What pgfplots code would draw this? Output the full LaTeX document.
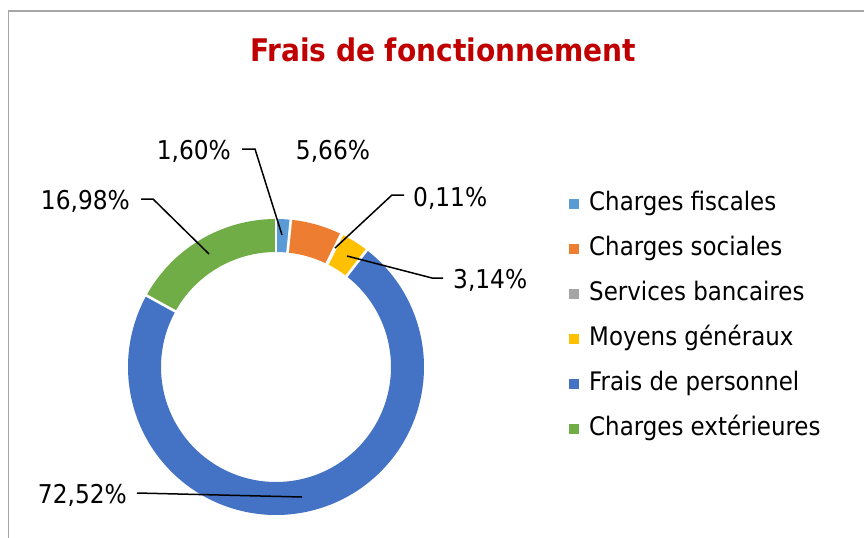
\documentclass[border=0pt]{standalone}
\usepackage{pgfplots}
\pgfplotsset{compat=1.18}
\usepackage{fontspec}
\setmainfont{DejaVu Sans Condensed}
\definecolor{cA}{HTML}{5B9BD5}
\definecolor{cB}{HTML}{ED7D31}
\definecolor{cC}{HTML}{A5A5A5}
\definecolor{cD}{HTML}{FFC000}
\definecolor{cE}{HTML}{4472C4}
\definecolor{cF}{HTML}{70AD47}
\definecolor{titlered}{HTML}{C00000}
\definecolor{bordergray}{HTML}{A6A6A6}
% data (percent)
\def\pA{1.60}  % Charges fiscales
\def\pB{5.66}  % Charges sociales
\def\pC{0.11}  % Services bancaires
\def\pD{3.14}  % Moyens generaux
\def\pE{72.52} % Frais de personnel
\def\pF{16.98} % Charges exterieures
\pgfmathsetmacro\aA{90-3.6*\pA}
\pgfmathsetmacro\aB{\aA-3.6*\pB}
\pgfmathsetmacro\aC{\aB-3.6*\pC}
\pgfmathsetmacro\aD{\aC-3.6*\pD}
\pgfmathsetmacro\aE{\aD-3.6*\pE}
\pgfmathsetmacro\aF{\aE-3.6*\pF}
\def\cx{276}
\def\cy{367}
\def\Rm{131.5}
\begin{document}
\begin{tikzpicture}
\begin{axis}[
  width=864bp, height=538bp, scale only axis,
  xmin=0, xmax=864, ymin=0, ymax=538, y dir=reverse,
  hide axis, clip=false,
  legend image code/.code={\fill[#1] (0bp,-5bp) rectangle (10bp,5bp);},
  legend style={at={(axis cs:569,193)}, anchor=north west, draw=none, fill=none,
    inner sep=0pt, row sep=23bp, column sep=10bp,
    font=\fontsize{25.6}{30}\selectfont,
    nodes={inner sep=0pt, text height=17bp, text depth=5bp}},
  legend cell align=left,
]
% ring slices
\addplot[cA, line width=33bp, domain=\aA:90, samples=20, forget plot] ({\cx+\Rm*cos(x)},{\cy-\Rm*sin(x)});
\addplot[cB, line width=33bp, domain=\aB:\aA, samples=30, forget plot] ({\cx+\Rm*cos(x)},{\cy-\Rm*sin(x)});
\addplot[cC, line width=33bp, domain=\aC:\aB, samples=2, forget plot] ({\cx+\Rm*cos(x)},{\cy-\Rm*sin(x)});
\addplot[cD, line width=33bp, domain=\aD:\aC, samples=20, forget plot] ({\cx+\Rm*cos(x)},{\cy-\Rm*sin(x)});
\addplot[cE, line width=33bp, domain=\aE:\aD, samples=240, forget plot] ({\cx+\Rm*cos(x)},{\cy-\Rm*sin(x)});
\addplot[cF, line width=33bp, domain=\aF:\aE, samples=60, forget plot] ({\cx+\Rm*cos(x)},{\cy-\Rm*sin(x)});
% white separators
\foreach \b in {90,\aA,\aB,\aC,\aD,\aE}{
  \addplot[white, line width=2.6bp, domain=110:154, samples=2, forget plot] ({\cx+x*cos(\b)},{\cy-x*sin(\b)});
}
% legend
\addlegendimage{fill=cA, draw=none}\addlegendentry{Charges fiscales}
\addlegendimage{fill=cB, draw=none}\addlegendentry{Charges sociales}
\addlegendimage{fill=cC, draw=none}\addlegendentry{Services bancaires}
\addlegendimage{fill=cD, draw=none}\addlegendentry{Moyens généraux}
\addlegendimage{fill=cE, draw=none}\addlegendentry{Frais de personnel}
\addlegendimage{fill=cF, draw=none}\addlegendentry{Charges extérieures}
% title
\node[anchor=base, font=\bfseries\fontsize{31.3}{36}\selectfont, text=titlered, inner sep=0pt] at (axis cs:443,62) {Frais de fonctionnement};
% data labels
\begin{scope}[every node/.style={inner sep=0pt, font=\fontsize{26}{30}\selectfont}]
\node[anchor=base east] at (axis cs:231,159) {1,60\%};
\node[anchor=base] at (axis cs:333,159) {5,66\%};
\node[anchor=base west] at (axis cs:413,206) {0,11\%};
\node[anchor=base west] at (axis cs:453,288) {3,14\%};
\node[anchor=base east] at (axis cs:130,209) {16,98\%};
\node[anchor=base east] at (axis cs:127,503) {72,52\%};
\end{scope}
% leader lines
\begin{scope}[black, line width=1.5bp]
\draw (axis cs:242,149) -- (axis cs:255,149) -- (axis cs:282,235);
\draw (axis cs:404,195) -- (axis cs:392,195) -- (axis cs:335,248);
\draw (axis cs:443,278) -- (axis cs:432,278) -- (axis cs:347,256);
\draw (axis cs:141,199) -- (axis cs:153,199) -- (axis cs:209,254);
\draw (axis cs:137,493) -- (axis cs:302,497);
\end{scope}
% chart border (top and left visible)
\draw[bordergray, line width=1.5bp] (axis cs:8.5,538) -- (axis cs:8.5,11) -- (axis cs:864,11);
\end{axis}
\pgfresetboundingbox
\path[use as bounding box] (current axis.south west) rectangle (current axis.north east);
\end{tikzpicture}
\end{document}
